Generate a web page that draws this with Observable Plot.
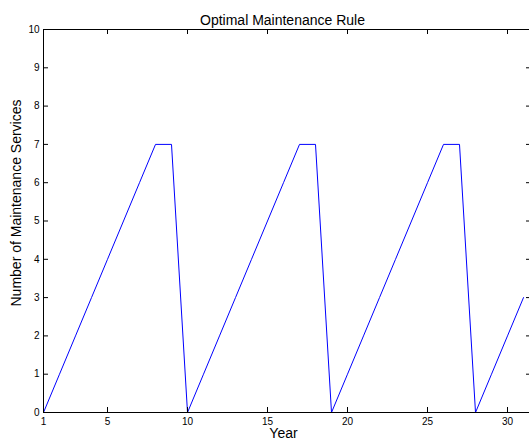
<!DOCTYPE html>
<html>
<head>
<meta charset="utf-8">
<script src="https://cdn.jsdelivr.net/npm/d3@7"></script>
<script src="https://cdn.jsdelivr.net/npm/@observablehq/plot@0.6"></script>
<style>
  html, body { margin: 0; padding: 0; background: #fff; overflow: hidden; }
  #chart { width: 529px; height: 448px; overflow: hidden; }
  #chart svg { max-width: none !important; width: 545px; height: 448px; display: block; }
</style>
</head>
<body>
<div id="chart"></div>
<script>
// Data
const years = [1,2,3,4,5,6,7,8,9,10,11,12,13,14,15,16,17,18,19,20,21,22,23,24,25,26,27,28,29,30,31];
const services = [0,1,2,3,4,5,6,7,7,0,1,2,3,4,5,6,7,7,0,1,2,3,4,5,6,7,7,0,1,2,3];
const xTicks = [1,5,10,15,20,25,30];
const yTicks = [0,1,2,3,4,5,6,7,8,9,10];
const title = "Optimal Maintenance Rule";
const xLabel = "Year";
const yLabel = "Number of Maintenance Services";

const data = years.map((y, i) => ({year: y, n: services[i]}));

const W = 545, H = 448;
const mL = 43, mR = 14, mT = 29, mB = 36;
const innerW = W - mL - mR, innerH = H - mT - mB;
const tk = 5;

const chart = Plot.plot({
  width: W,
  height: H,
  marginLeft: mL,
  marginRight: mR,
  marginTop: mT,
  marginBottom: mB,
  style: {fontFamily: '"Liberation Sans", Arial, Helvetica, sans-serif', background: "#fff", overflow: "visible", maxWidth: "none"},
  x: {domain: [1, 31.5]},
  y: {domain: [0, 10]},
  marks: [
    Plot.line(data, {x: "year", y: "n", stroke: "#0000ff", strokeWidth: 1}),
    // inward ticks
    Plot.tickX(xTicks, {x: d => d, insetTop: innerH - tk, stroke: "black"}),
    Plot.tickX(xTicks, {x: d => d, insetBottom: innerH - tk, stroke: "black"}),
    Plot.tickY(yTicks, {y: d => d, insetRight: innerW - tk, stroke: "black"}),
    Plot.tickY(yTicks, {y: d => d, insetLeft: innerW - tk, stroke: "black"}),
    Plot.frame({stroke: "black", strokeWidth: 1}),
    Plot.axisX(xTicks, {tickSize: 0, tickPadding: 5, fontSize: 10, label: null, fill: "black"}),
    Plot.axisY(yTicks, {tickSize: 0, tickPadding: 4, fontSize: 10, label: null, fill: "black"}),
    Plot.text([title], {frameAnchor: "top", dy: -14, dx: -5, fontSize: 14, fill: "black", text: d => d}),
    Plot.text([xLabel], {frameAnchor: "bottom", dy: 25, dx: -4, fontSize: 14, fill: "black", text: d => d}),
    Plot.text([yLabel], {frameAnchor: "left", textAnchor: "middle", dx: -27, dy: -18, rotate: -90, fontSize: 14, fill: "black", text: d => d})
  ]
});
document.getElementById("chart").appendChild(chart);
</script>
</body>
</html>
